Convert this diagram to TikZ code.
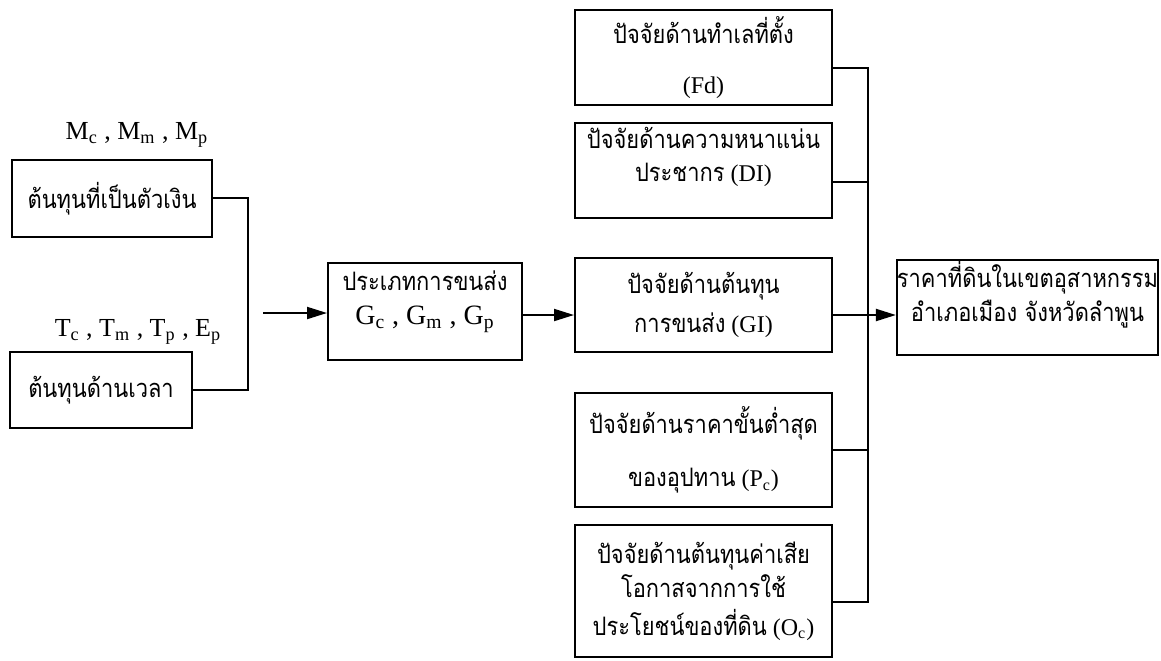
\documentclass[tikz,border=0pt]{standalone}
\usepackage{fontspec}
\setmainfont{Liberation Serif}
\newfontfamily\thaifont[Script=Thai, FakeStretch=0.86, Scale=1.06]{Loma}
\usetikzlibrary{arrows.meta}

\begin{document}
\begin{tikzpicture}[x=0.5pt, y=-0.5pt,
    box/.style={draw, line width=1pt, inner sep=0pt, align=center,
        font=\fontsize{12}{14}\selectfont},
    sym/.style={inner sep=0pt, font=\fontsize{13}{15}\selectfont},
    conn/.style={line width=1pt},
    arr/.style={line width=1pt, -{Triangle[length=10pt,width=6pt]}}]
    \useasboundingbox (0,0) rectangle (1161,660);

    % cost inputs
    \node[sym] at (137,135) (mlab) {M\textsubscript{c} , M\textsubscript{m} , M\textsubscript{p}};
    \node[box, minimum width=100pt, minimum height=38.5pt] at (112,198.5) (money) {\thaifont ต้นทุนที่เป็นตัวเงิน};
    \node[sym] at (138,332) (tlab) {T\textsubscript{c} , T\textsubscript{m} , T\textsubscript{p} , E\textsubscript{p}};
    \node[box, minimum width=91pt, minimum height=38pt] at (101,390) (time) {\thaifont ต้นทุนด้านเวลา};

    % transport type
    \node[box, minimum width=97pt, minimum height=48.5pt] at (425,311.5) (gtype)
        {{\thaifont ประเภทการขนส่ง}\\[3pt]
         {\fontsize{14}{16}\selectfont G\textsubscript{c} , G\textsubscript{m} , G\textsubscript{p}}\rule[-14pt]{0pt}{1pt}};

    % factors
    \node[box, minimum width=128.5pt, minimum height=47.5pt] at (703.5,57.5) (fd)
        {{\thaifont ปัจจัยด้านทำเลที่ตั้ง}\\[11pt] (Fd)};
    \node[box, minimum width=128.5pt, minimum height=47.5pt] at (703.5,170.5) (di)
        {{\thaifont ปัจจัยด้านความหนาแน่น}\\[2.5pt] {\thaifont ประชากร} (DI)\rule[-16pt]{0pt}{1pt}};
    \node[box, minimum width=128.5pt, minimum height=47pt] at (703.5,305) (gi)
        {{\thaifont ปัจจัยด้านต้นทุน}\\[5.5pt] {\thaifont การขนส่ง} (GI)};
    \node[box, minimum width=128.5pt, minimum height=57pt] at (703.5,450) (pc)
        {{\thaifont ปัจจัยด้านราคาขั้นต่ำสุด}\\[12.5pt] {\thaifont ของอุปทาน} (P\textsubscript{c})};
    \node[box, minimum width=128.5pt, minimum height=66pt] at (703.5,591) (oc)
        {{\thaifont ปัจจัยด้านต้นทุนค่าเสีย}\\[1pt] {\thaifont โอกาสจากการใช้}\\[5pt]
         {\thaifont ประโยชน์ของที่ดิน} (O\textsubscript{c})};

    % result
    \node[box, minimum width=122.5pt, minimum height=47.5pt] at (1027.5,307.5) (final)
        {{\thaifont ราคาที่ดินในเขตอุสาหกรรม}\\[2pt] {\thaifont อำเภอเมือง จังหวัดลำพูน}\rule[-16pt]{0pt}{1pt}};

    \coordinate (bkt) at (248,198);
    \coordinate (gin) at (263,313);
    \coordinate (bfd) at (868,68);
    \coordinate (bdi) at (868,182);
    \coordinate (bgi) at (868,315);
    \coordinate (bpc) at (868,450);
    \coordinate (boc) at (868,602);

    \draw[conn] (money.east |- bkt) -- (bkt) |- (time.east);
    \draw[arr] (gin) -- (gtype.west |- gin);
    \draw[arr] (gtype.east |- bgi) -- (gi.west |- bgi);
    \draw[conn] (fd.east |- bfd) -- (bfd) -- (boc) -- (oc.east |- boc);
    \draw[conn] (di.east |- bdi) -- (bdi);
    \draw[conn] (pc.east |- bpc) -- (bpc);
    \draw[arr] (gi.east |- bgi) -- (final.west |- bgi);
\end{tikzpicture}
\end{document}
